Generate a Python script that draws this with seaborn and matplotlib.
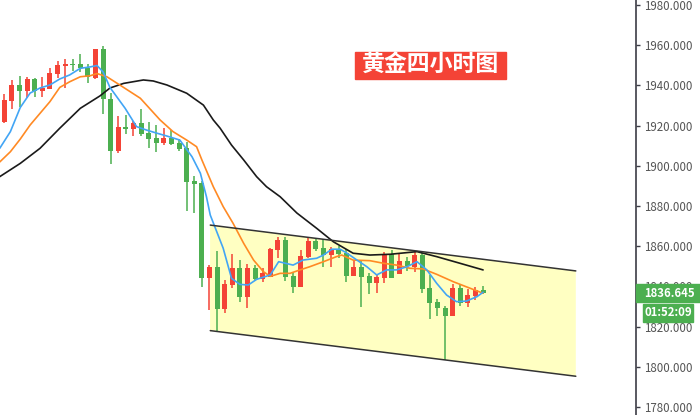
import numpy as np
import pandas as pd
import matplotlib
matplotlib.use('Agg')
import matplotlib.pyplot as plt
import matplotlib.transforms as mtransforms
from matplotlib.patches import Rectangle, Polygon
from matplotlib.ticker import FormatStrFormatter
import seaborn as sns

# 黄金 4小时K线 (红=涨, 绿=跌)
opens = [1921.6, 1932.4, 1940.2, 1937.2, 1943.2, 1937.4, 1938.4, 1945.8, 1949.7, 1950.6,
         1950.6, 1948.7, 1943.5, 1958.1, 1933.2, 1907.4, 1919.3, 1918.5, 1921.3, 1916.3,
         1913.8, 1911.3, 1913.7, 1911.3, 1908.9, 1892.3, 1891.3, 1844.3, 1849.8, 1828.9,
         1840.7, 1849.2, 1834.7, 1849.2, 1843.7, 1844.7, 1858.3, 1862.9, 1845.2, 1839.8,
         1854.5, 1862.6, 1859.1, 1855.8, 1858.6, 1856.5, 1845.2, 1849.8, 1845.2, 1841.8,
         1844.3, 1856.3, 1846.3, 1852.6, 1849.8, 1855.6, 1839.2, 1832.2, 1829.1, 1825.3,
         1839.2, 1831.7, 1835.2, 1838.1]
highs = [1935.7, 1942.8, 1944.7, 1944.2, 1943.5, 1944.2, 1948.7, 1952.3, 1953.1, 1953.1,
         1955.6, 1950.6, 1958.2, 1959.6, 1936.2, 1924.8, 1925.3, 1922.3, 1928.3, 1921.8,
         1920.3, 1919.0, 1917.8, 1913.3, 1911.8, 1894.9, 1892.4, 1850.6, 1857.6, 1843.0,
         1856.0, 1853.1, 1851.3, 1850.6, 1849.0, 1858.9, 1864.6, 1864.6, 1847.0, 1858.1,
         1863.9, 1863.6, 1863.6, 1859.6, 1860.3, 1858.6, 1853.1, 1853.1, 1846.5, 1845.7,
         1857.0, 1858.3, 1856.1, 1854.6, 1857.6, 1856.6, 1845.7, 1833.6, 1830.2, 1841.2,
         1841.2, 1838.7, 1839.6, 1840.2]
lows = [1921.3, 1928.1, 1929.4, 1933.9, 1934.4, 1934.4, 1938.3, 1943.7, 1938.6, 1947.2,
        1946.8, 1941.3, 1943.2, 1925.8, 1900.9, 1906.5, 1916.0, 1914.8, 1915.0, 1909.0,
        1906.9, 1910.2, 1910.2, 1907.2, 1877.5, 1876.4, 1839.8, 1828.3, 1817.5, 1826.8,
        1839.4, 1832.2, 1829.4, 1842.8, 1842.3, 1844.7, 1854.0, 1842.8, 1836.7, 1839.8,
        1854.0, 1857.6, 1849.8, 1849.8, 1854.3, 1842.3, 1845.2, 1829.9, 1836.2, 1836.9,
        1841.8, 1844.3, 1846.0, 1847.8, 1847.0, 1836.9, 1823.9, 1825.3, 1803.2, 1825.2,
        1830.4, 1829.8, 1833.1, 1836.2]
closes = [1932.7, 1940.2, 1937.2, 1943.2, 1937.4, 1938.9, 1946.2, 1950.1, 1950.5, 1950.1,
          1948.5, 1944.0, 1958.1, 1933.1, 1907.5, 1919.3, 1918.5, 1921.3, 1915.8, 1913.3,
          1911.3, 1913.8, 1910.7, 1908.4, 1892.1, 1891.0, 1844.3, 1849.8, 1828.8, 1841.2,
          1849.2, 1834.7, 1849.2, 1843.7, 1846.5, 1858.6, 1863.2, 1844.8, 1839.8, 1855.0,
          1862.6, 1858.6, 1855.6, 1858.6, 1856.0, 1845.2, 1849.8, 1844.7, 1841.8, 1844.7,
          1856.3, 1844.3, 1852.5, 1850.0, 1855.6, 1838.9, 1831.7, 1829.1, 1825.3, 1839.2,
          1831.7, 1835.7, 1838.1, 1836.645]

# 均线 (按K线序号读取)
blue_x = [-0.6, 0.8, 2.1, 3.4, 4.7, 6.0, 7.3, 8.6, 10.0, 11.3, 12.2, 13.0, 13.9, 15.9, 17.4,
          18.7, 20.1, 21.4, 23.1, 24.7, 25.8, 26.6, 27.1, 28.8, 29.9, 31.0, 32.1, 33.2, 35.0,
          36.1, 38.0, 39.3, 41.1, 42.0, 43.1, 44.2, 45.1, 46.4, 47.7, 49.0, 50.3, 51.6, 53.0,
          54.3, 55.6, 56.9, 58.2, 59.5, 60.8, 62.2, 63.0]
blue_y = [1908.7, 1917.0, 1929.0, 1936.2, 1938.7, 1940.2, 1943.2, 1945.2, 1948.5, 1949.2,
          1949.9, 1946.7, 1939.0, 1928.6, 1919.5, 1917.8, 1916.2, 1914.8, 1912.8, 1904.5,
          1896.3, 1884.6, 1875.5, 1859.0, 1844.0, 1841.0, 1840.7, 1843.5, 1845.7, 1852.3,
          1850.6, 1853.1, 1854.0, 1855.6, 1858.5, 1858.5, 1856.5, 1853.1, 1849.8, 1845.7,
          1848.2, 1848.2, 1849.8, 1852.3, 1848.2, 1841.5, 1835.7, 1832.4, 1832.7, 1834.9,
          1837.1]
orange_x = [-0.6, 0.8, 2.1, 3.4, 4.7, 6.0, 7.3, 8.6, 10.0, 11.3, 12.2, 13.5, 15.2, 17.9,
            20.5, 22.2, 24.0, 25.3, 26.0, 27.5, 28.8, 30.1, 31.5, 32.8, 34.1, 35.0, 36.3,
            37.6, 38.9, 40.2, 42.0, 43.7, 44.4, 45.9, 48.1, 49.9, 51.6, 53.4, 55.1, 56.9,
            59.1, 60.8, 63.0]
orange_y = [1901.9, 1907.0, 1913.3, 1920.3, 1926.1, 1931.9, 1939.0, 1941.8, 1944.3, 1944.8,
            1945.9, 1944.3, 1940.2, 1933.6, 1922.8, 1917.0, 1912.8, 1909.5, 1902.9, 1889.6,
            1879.7, 1871.4, 1861.4, 1853.1, 1847.3, 1845.0, 1846.5, 1846.5, 1848.2, 1849.8,
            1852.3, 1854.8, 1855.6, 1853.1, 1852.8, 1851.5, 1850.6, 1849.0, 1848.7, 1846.0,
            1842.3, 1839.8, 1836.6]
black_x = [-0.6, 2.1, 4.7, 7.3, 10.0, 12.6, 13.9, 15.7, 18.3, 19.6, 21.4, 24.0, 26.2, 27.5,
           28.4, 29.9, 31.5, 33.2, 34.5, 36.3, 38.5, 41.1, 43.3, 45.9, 48.1, 50.8, 54.3,
           56.9, 59.5, 63.0]
black_y = [1894.6, 1901.2, 1908.7, 1918.7, 1928.6, 1934.8, 1938.7, 1941.0, 1942.7, 1942.2,
           1940.2, 1936.1, 1930.2, 1922.8, 1918.7, 1910.3, 1902.9, 1894.6, 1889.6, 1884.6,
           1876.5, 1868.9, 1862.2, 1856.5, 1855.6, 1856.0, 1857.3, 1854.8, 1852.0, 1848.2]

# 下降通道
chan_x = [27.1, 75.2]
chan_top = [1870.5, 1847.7]
chan_bot = [1818.0, 1795.3]

yticks = list(range(1780, 2000, 20))
title = '黄金四小时图'
last_price = closes[-1]
countdown = '01:52:09'

UP = '#f44336'
DOWN = '#4caf50'

sns.set_style('white')
plt.rcParams['font.family'] = ['Noto Sans CJK SC', 'DejaVu Sans']

fig = plt.figure(figsize=(7, 4.15), dpi=100)
ax = fig.add_axes([0, 0, 636 / 700, 1])

# 通道
poly = Polygon([[chan_x[0], chan_top[0]], [chan_x[1], chan_top[1]],
                [chan_x[1], chan_bot[1]], [chan_x[0], chan_bot[0]]],
               closed=True, facecolor='#ffffc2', edgecolor='none', zorder=1)
ax.add_patch(poly)
ax.plot(chan_x, chan_top, color='#333333', lw=1.1, zorder=5)
ax.plot(chan_x, chan_bot, color='#333333', lw=1.1, zorder=5)
ax.plot([chan_x[0], chan_x[0]], [chan_top[0], chan_bot[0]], color='#ffffc2', lw=0.5, zorder=1)

# K线
o = np.array(opens)
h = np.array(highs)
l = np.array(lows)
c = np.array(closes)
x = np.arange(len(o))
cols = [UP if cc >= oo else DOWN for oo, cc in zip(o, c)]
ax.vlines(x, l, h, colors=cols, lw=1.1, zorder=2)
body = np.maximum(np.abs(c - o), 0.6)
ax.bar(x, body, bottom=np.minimum(o, c), width=0.66, color=cols, linewidth=0, zorder=3)

# 均线
df_b = pd.DataFrame({'x': blue_x, 'y': blue_y})
df_o = pd.DataFrame({'x': orange_x, 'y': orange_y})
df_k = pd.DataFrame({'x': black_x, 'y': black_y})
sns.lineplot(data=df_k, x='x', y='y', ax=ax, color='#1a1a1a', lw=1.2, sort=False, estimator=None, zorder=4)
sns.lineplot(data=df_o, x='x', y='y', ax=ax, color='#ff8a24', lw=1.2, sort=False, estimator=None, zorder=4)
sns.lineplot(data=df_b, x='x', y='y', ax=ax, color='#42a5f5', lw=1.2, sort=False, estimator=None, zorder=4)

ax.set_xlim(-0.566, 83.12)
ax.set_ylim(1980 - 410 / 2.01, 1980 + 5 / 2.01)
ax.set_xlabel('')
ax.set_ylabel('')
ax.set_xticks([])
ax.yaxis.tick_right()
ax.set_yticks(yticks)
ax.yaxis.set_major_formatter(FormatStrFormatter('%.3f'))
ax.tick_params(axis='y', direction='out', length=3, width=1, color='#3c3c46',
               labelsize=8.3, labelcolor='#555555', pad=2.5)
for s in ['top', 'left', 'bottom']:
    ax.spines[s].set_visible(False)
ax.spines['right'].set_color('#3c3c46')
ax.spines['right'].set_linewidth(1.2)

# 标题框
ax.add_patch(Rectangle((355 / 636, (415 - 79.3) / 415), 150.7 / 636, 27 / 415,
                       transform=ax.transAxes, color='#f44336', zorder=8))
ax.text(430.3 / 636, (415 - 65.8) / 415, title, transform=ax.transAxes,
        ha='center', va='center', color='white', fontsize=16.5, fontweight='bold', zorder=9)

# 当前价格标签
trans = mtransforms.blended_transform_factory(ax.transAxes, ax.transData)
ax.add_patch(Rectangle((1.0, last_price - 4.6), 64 / 636, 9.2, transform=trans,
                       color=DOWN, clip_on=False, zorder=10))
ax.text(1.0 + 33 / 636, last_price, f'{last_price:.3f}', transform=trans, ha='center',
        va='center', color='white', fontsize=8.2, fontweight='bold', clip_on=False, zorder=11)
ax.add_patch(Rectangle((1.0 + 6.7 / 636, last_price - 14.2), 50.3 / 636, 8.8, transform=trans,
                       color=DOWN, clip_on=False, zorder=10))
ax.text(1.0 + 32 / 636, last_price - 9.8, countdown, transform=trans, ha='center',
        va='center', color='white', fontsize=8.2, fontweight='bold', clip_on=False, zorder=11)

fig.savefig('out.png', dpi=100)
